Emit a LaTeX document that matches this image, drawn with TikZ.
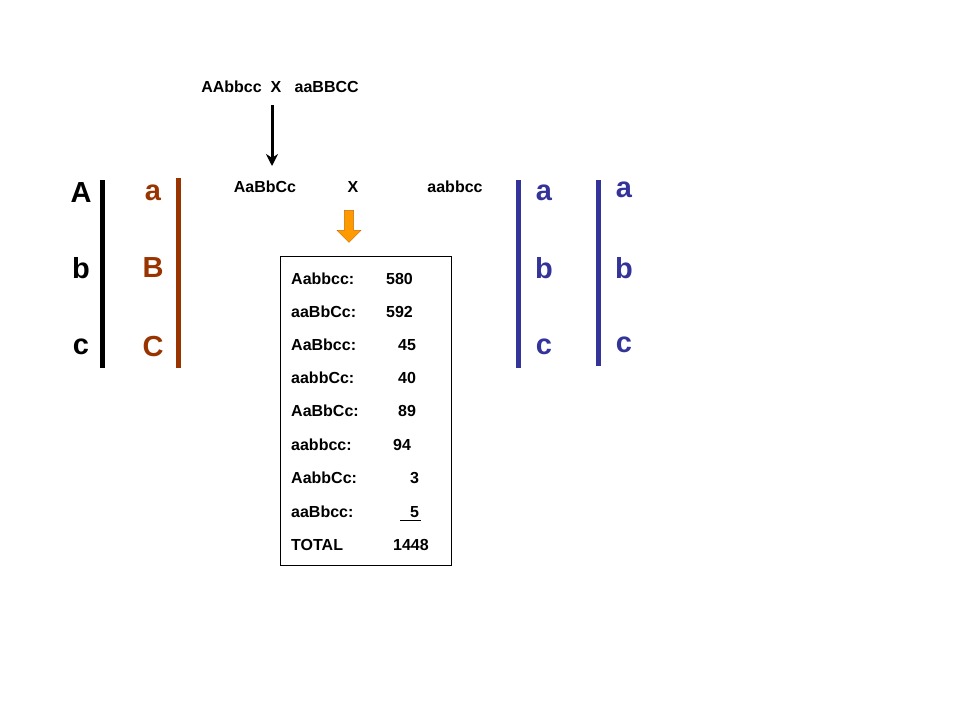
\documentclass[tikz,border=0pt]{standalone}
\usepackage{fontspec}
\setmainfont{Liberation Sans}
\usetikzlibrary{shapes.arrows,arrows.meta}
\definecolor{rust}{RGB}{153,51,0}
\definecolor{navy}{RGB}{51,51,153}
\begin{document}
\begin{tikzpicture}[x=1pt,y=-1pt,
 big/.style={font=\fontsize{29}{29}\selectfont\bfseries},
 mid/.style={font=\fontsize{16}{16}\selectfont\bfseries},
 tab/.style={font=\fontsize{16}{16}\selectfont\bfseries,anchor=west,inner sep=0pt}]
\useasboundingbox (0,0) rectangle (960,720);
% top cross
\node[mid] (top) at (280,87) {AAbbcc\ \ X\ \ \ aaBBCC};
\coordinate (ta) at (272,105);
\coordinate (tb) at (272,166);
\draw[line width=3pt,-{Stealth[length=12pt,width=12pt]}] (ta) -- (tb);
\node[mid] (p1) at (265,187) {AaBbCc};
\node[mid] (px) at (353,187) {X};
\node[mid] (p2) at (455,187) {aabbcc};
% chromosomes
\draw[line width=5pt] (102,180) -- (102,368);
\node[big] (A1) at (81,193) {A};
\node[big] (b1) at (81,268) {b};
\node[big] (c1) at (81,347) {c};
\draw[rust,line width=5pt] (178,178) -- (178,368);
\node[big,text=rust] (a2) at (153,193) {a};
\node[big,text=rust] (B2) at (153,268) {B};
\node[big,text=rust] (C2) at (153,347) {C};
\draw[navy,line width=5pt] (518,180) -- (518,368);
\node[big,text=navy] (a3) at (544,193) {a};
\node[big,text=navy] (b3) at (544,268) {b};
\node[big,text=navy] (c3) at (544,347) {c};
\draw[navy,line width=5pt] (598,180) -- (598,366);
\node[big,text=navy] (a4) at (624,190) {a};
\node[big,text=navy] (b4) at (624,268) {b};
\node[big,text=navy] (c4) at (624,345) {c};
% orange arrow
\node[single arrow,shape border rotate=270,fill={rgb,255:red,255;green,153;blue,0},draw={rgb,255:red,200;green,110;blue,0},
 minimum width=24pt,single arrow head extend=5pt,single arrow head indent=0pt,minimum height=32pt,inner sep=3pt] (oa) at (349,224) {};
% table
\draw (280,256) rectangle (451,565);
\foreach \l/\n/\x/\y in {Aabbcc:/580/386/279,aaBbCc:/592/386/312,AaBbcc:/45/398/345,aabbCc:/40/398/378,AaBbCc:/89/398/411,aabbcc:/94/393/445,AabbCc:/3/410/478,TOTAL/1448/393/545}{
 \node[tab] at (291,\y) {\l};
 \node[tab] at (\x,\y) {\n};
}
\node[tab] (l8) at (291,512) {aaBbcc:};
\node[tab] (n8) at (410,512) {5};
\draw[line width=1pt] (400,520) -- (421,520);
\end{tikzpicture}
\end{document}
